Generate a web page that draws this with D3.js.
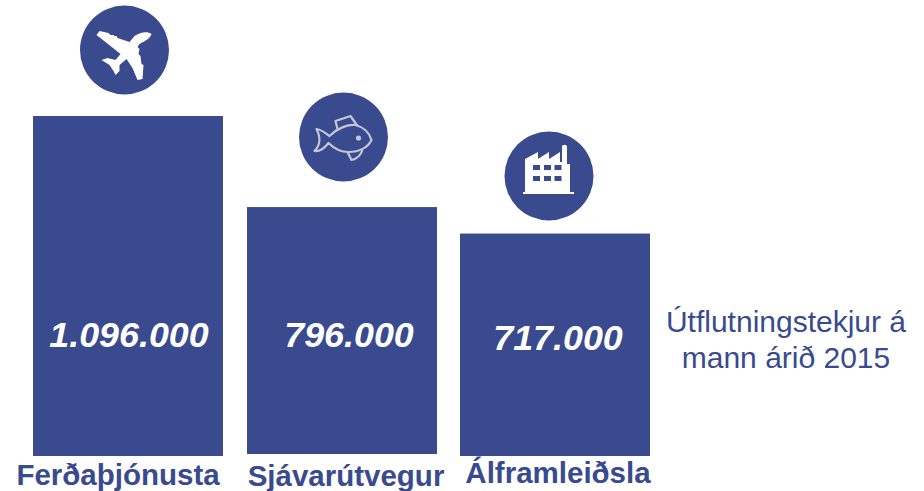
<!DOCTYPE html>
<html><head><meta charset="utf-8">
<style>html,body{margin:0;padding:0;background:#fff}svg{display:block}text{font-family:"Liberation Sans",Arial,sans-serif}</style>
<script src="https://cdnjs.cloudflare.com/ajax/libs/d3/7.9.0/d3.min.js"></script>
</head><body><svg id="c" width="924" height="491"></svg>
<script>
const categories = ["Ferðaþjónusta", "Sjávarútvegur", "Álframleiðsla"];
const values = [1096000, 796000, 717000];
const valueLabels = ["1.096.000", "796.000", "717.000"];
const noteLines = ["Útflutningstekjur á", "mann árið 2015"];
const icons = ["plane", "fish", "factory"];

const color = "#3a4a8f";
const svg = d3.select("#c");
const x = d3.scaleOrdinal().domain(categories).range([128, 342, 555]);
const h = d3.scaleLinear().domain([0, 1096000]).range([0, 340]);
const barW = 190;
const base = [456, 454, 456];
const labelY = [485, 485.5, 483];
const labelX = [118, 346, 558];
const valueY = [347, 347, 350];
const valueX = [129, 349, 558];
const iconC = [[124.5, 50], [343.5, 137], [549, 176]];

svg.selectAll("rect.bar").data(categories).join("rect").attr("class", "bar")
  .attr("x", d => x(d) - barW / 2)
  .attr("y", (d, i) => base[i] - h(values[i]))
  .attr("width", barW)
  .attr("height", (d, i) => h(values[i]))
  .attr("fill", color);

svg.selectAll("text.val").data(valueLabels).join("text").attr("class", "val")
  .attr("x", (d, i) => valueX[i]).attr("y", (d, i) => valueY[i])
  .attr("text-anchor", "middle").attr("fill", "#fff")
  .attr("font-size", 35.8).attr("font-weight", "bold").attr("font-style", "italic")
  .text(d => d);

svg.selectAll("text.cat").data(categories).join("text").attr("class", "cat")
  .attr("x", (d, i) => labelX[i]).attr("y", (d, i) => labelY[i])
  .attr("text-anchor", "middle").attr("fill", color)
  .attr("font-size", 29.5).attr("font-weight", "bold")
  .text(d => d);

svg.selectAll("text.note").data(noteLines).join("text").attr("class", "note")
  .attr("x", 786).attr("y", (d, i) => 332 + i * 36)
  .attr("text-anchor", "middle").attr("fill", color)
  .attr("font-size", 30)
  .text(d => d);

const g = svg.selectAll("g.icon").data(icons).join("g").attr("class", "icon")
  .attr("transform", (d, i) => `translate(${iconC[i][0]},${iconC[i][1]})`);
g.append("circle").attr("r", 44.5).attr("fill", color);

// Plane, pointing up-right
g.filter(d => d === "plane").append("path").attr("fill", "#fff")
  .attr("d", "M27,-16 C23,-19 16,-18 10,-14 L5,-8 L-7,-12 L-8,-14 L-10,-14 L-11,-15 L-14,-15 L-16,-17 L-25,-19 L-28,-15 L-14,-4 L-4,4 L-9,10 L-17,8 L-23,10 L-15,15 L-11,21 L-9,25 L-5,21 L-5,15 L2,9 L8,18 L13,30 L18,29 L19,15 L17,14 L16,6 L14,4 L15,-1 L13,-3 L15,-6 C21,-9 26,-12 27,-16 Z");

// Fish outline
const fish = g.filter(d => d === "fish").append("g").attr("fill", "none").attr("stroke", "#c3c6d4").attr("stroke-width", 2.2).attr("stroke-linejoin", "round");
fish.append("path").attr("d", "M-27,-8 C-23,-8 -18,-4 -14,-1 C-6,-9 5,-13 12,-12 C20,-10 26,-4 28,3 C25,10 16,15 5,15 C-4,15 -10,11 -15,6 C-19,11 -24,15 -29,14 C-24,9 -22,2 -27,-8 Z");
fish.append("path").attr("d", "M-6,-8 L-8,-16 L7,-21 L14,-11");
fish.append("path").attr("d", "M4,15 L8,23 C13,22 17,19 19,13");
g.filter(d => d === "fish").append("circle").attr("cx", 15).attr("cy", 1).attr("r", 2.6).attr("fill", "#c3c6d4");

// Factory
const fac = g.filter(d => d === "factory");
fac.append("path").attr("fill", "#fff")
  .attr("d", "M-24,-17 L-11,-24 L-11,-17 L0,-24 L0,-17 L11,-24 L11,-14 L13,-14 L13,-29 C13,-32 18,-32 18,-29 L18,-12 L21,-12 L21,16 L25,16 L25,18 L-26,18 L-26,16 L-24,16 Z");
const winX = [-16, -5, 5.5], winY = [-11, 0];
winY.forEach(wy => winX.forEach(wx => fac.append("rect").attr("x", wx).attr("y", wy).attr("width", 7).attr("height", 5).attr("fill", color)));
</script></body></html>
